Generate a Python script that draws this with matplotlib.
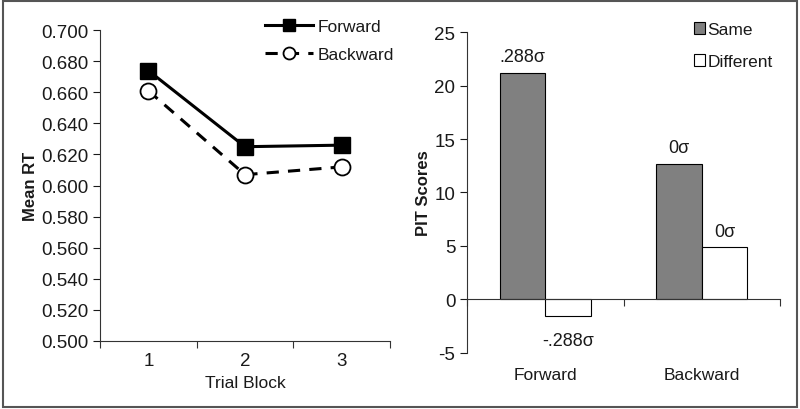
import matplotlib
matplotlib.use("Agg")
import matplotlib.pyplot as plt
from matplotlib.patches import Rectangle
import numpy as np

plt.rcParams['font.family'] = ['Liberation Sans', 'DejaVu Sans']
plt.rcParams['axes.unicode_minus'] = False

# Left panel data
blocks = ["1", "2", "3"]
forward_rt = [0.674, 0.625, 0.626]
backward_rt = [0.661, 0.607, 0.612]
rt_ticks = [0.500, 0.520, 0.540, 0.560, 0.580, 0.600, 0.620, 0.640, 0.660, 0.680, 0.700]

# Right panel data
groups = ["Forward", "Backward"]
same_scores = [21.2, 12.7]
diff_scores = [-1.5, 4.9]
same_labels = [".288σ", "0σ"]
diff_labels = ["-.288σ", "0σ"]
pit_ticks = [-5, 0, 5, 10, 15, 20, 25]

txt = '#1a1a1a'
tfs = 13.5
fig = plt.figure(figsize=(8, 4.1), dpi=100)

# ---------------- Left panel ----------------
ax1 = fig.add_axes([0.125, 0.166, 0.3625, 0.758])
x = np.arange(len(blocks))
ax1.plot(x, forward_rt, color='black', lw=2.2, marker='s', ms=11.5,
         mfc='black', mec='black', label='Forward', zorder=3)
ax1.plot(x, backward_rt, color='black', lw=2.2, ls=(0, (4, 3)), marker='o', ms=11.5,
         mfc='white', mec='black', mew=1.3, label='Backward', zorder=3)
ax1.set_xlim(-0.5, len(blocks) - 0.5)
ax1.set_ylim(0.5, 0.7)
ax1.set_yticks(rt_ticks)
ax1.set_yticklabels([f"{v:.3f}" for v in rt_ticks])
ax1.set_xticks(x)
ax1.set_xticklabels(blocks)
ax1.set_xticks(np.arange(-0.5, len(blocks)), minor=True)
ax1.tick_params(axis='x', which='major', length=0, pad=8, labelsize=tfs, colors=txt)
ax1.tick_params(axis='x', which='minor', length=5, width=0.8, direction='out', colors='#333333')
ax1.tick_params(axis='y', length=5, width=0.8, direction='out', labelsize=tfs, colors=txt)
for s in ['top', 'right']:
    ax1.spines[s].set_visible(False)
for s in ['left', 'bottom']:
    ax1.spines[s].set_color('#333333')
    ax1.spines[s].set_linewidth(0.8)
ax1.set_ylabel("Mean RT", fontsize=12, fontweight='bold', color=txt)
ax1.yaxis.set_label_coords(-0.215, 0.5)
ax1.set_xlabel("Trial Block", fontsize=12.5, color=txt)
ax1.xaxis.set_label_coords(0.5, -0.11)
leg1 = ax1.legend(loc='upper left', bbox_to_anchor=(0.331, 0.952), bbox_transform=fig.transFigure,
                  frameon=False, fontsize=12.5, handlelength=2.75, handletextpad=0.3,
                  labelspacing=0.75, markerscale=0.75, borderaxespad=0, borderpad=0)
for t in leg1.get_texts():
    t.set_color(txt)

# ---------------- Right panel ----------------
ax2 = fig.add_axes([0.584, 0.1366, 0.391, 0.7829])
gx = np.arange(len(groups))
w = 0.29
ax2.bar(gx - w / 2, same_scores, w, color='#808080', edgecolor='black', lw=0.8, label='Same')
ax2.bar(gx + w / 2, diff_scores, w, color='white', edgecolor='black', lw=0.8, label='Different')
ax2.set_xlim(-0.5, len(groups) - 0.5)
ax2.set_ylim(-5, 25)
ax2.set_yticks(pit_ticks)
ax2.spines['bottom'].set_position(('data', 0))
for s in ['top', 'right']:
    ax2.spines[s].set_visible(False)
for s in ['left', 'bottom']:
    ax2.spines[s].set_color('#333333')
    ax2.spines[s].set_linewidth(0.8)
ax2.set_xticks(np.arange(-0.5, len(groups)), minor=True)
ax2.set_xticks(gx)
ax2.set_xticklabels([])
ax2.tick_params(axis='x', which='major', length=0)
ax2.tick_params(axis='x', which='minor', length=5, width=0.8, direction='out', colors='#333333')
ax2.tick_params(axis='y', length=5, width=0.8, direction='out', labelsize=tfs, colors=txt)
for i, g in enumerate(groups):
    ax2.text(gx[i], -7.0, g, ha='center', va='center', fontsize=12.5, color=txt)
ax2.set_ylabel("PIT Scores", fontsize=12, fontweight='bold', color=txt)
ax2.yaxis.set_label_coords(-0.115, 0.5)

for i in range(len(groups)):
    ax2.text(gx[i] - w / 2, same_scores[i] + 1.5, same_labels[i], ha='center', va='center',
             fontsize=13, color=txt)
    if diff_scores[i] >= 0:
        ax2.text(gx[i] + w / 2, diff_scores[i] + 1.5, diff_labels[i], ha='center', va='center',
                 fontsize=13, color=txt)
    else:
        ax2.text(gx[i] + w / 2, diff_scores[i] - 2.3, diff_labels[i], ha='center', va='center',
                 fontsize=13, color=txt)

leg2 = ax2.legend(loc='upper left', bbox_to_anchor=(0.867, 0.944), bbox_transform=fig.transFigure,
                  frameon=False, fontsize=12.5, handlelength=0.65, handleheight=0.65,
                  handletextpad=0.15, labelspacing=1.0, borderaxespad=0, borderpad=0)
for t in leg2.get_texts():
    t.set_color(txt)

# outer frame
fig.patches.append(Rectangle((0.004, 0.006), 0.992, 0.989, transform=fig.transFigure,
                             fill=False, edgecolor='#555555', lw=1.5))

fig.savefig("out.png", dpi=100, facecolor='white')
